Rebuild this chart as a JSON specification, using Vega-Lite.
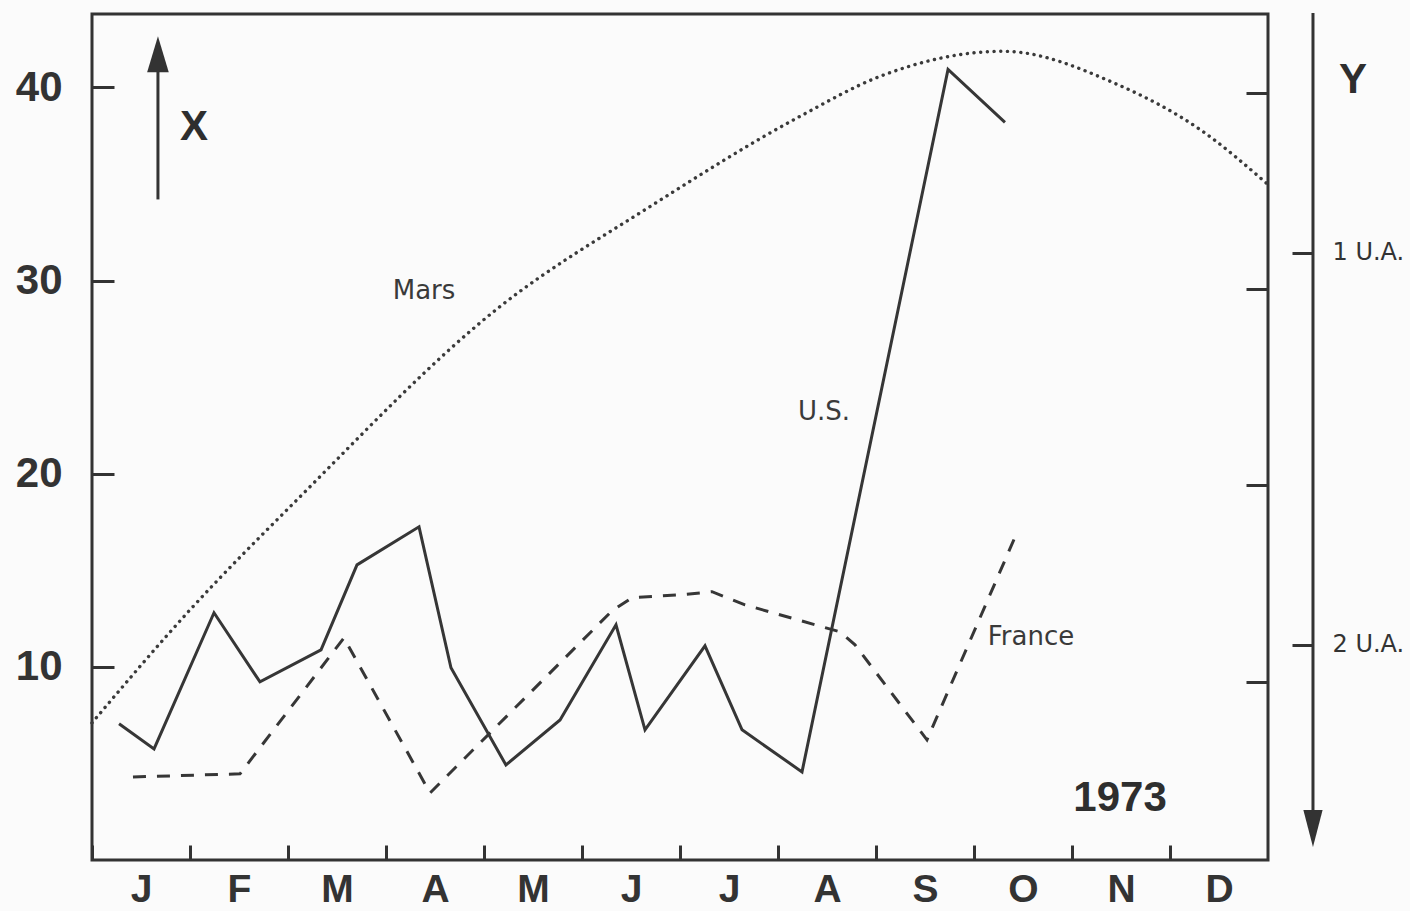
{
  "$schema": "https://vega.github.io/schema/vega-lite/v6.json",
  "width": 1176,
  "height": 846,
  "autosize": {"type": "none"},
  "padding": {"left": 92, "top": 14, "right": 142, "bottom": 51},
  "background": "#fbfbfb",
  "config": {"view": {"stroke": "#333333", "strokeWidth": 3}, "font": "Liberation Sans"},
  "datasets": {
    "series": [
      {"series": "U.S.", "t": 0.276, "v": 7.05},
      {"series": "U.S.", "t": 0.633, "v": 5.75},
      {"series": "U.S.", "t": 1.245, "v": 12.8},
      {"series": "U.S.", "t": 1.714, "v": 9.22},
      {"series": "U.S.", "t": 2.337, "v": 10.88},
      {"series": "U.S.", "t": 2.704, "v": 15.28},
      {"series": "U.S.", "t": 3.337, "v": 17.25},
      {"series": "U.S.", "t": 3.663, "v": 9.95},
      {"series": "U.S.", "t": 4.224, "v": 4.92},
      {"series": "U.S.", "t": 4.776, "v": 7.25},
      {"series": "U.S.", "t": 5.347, "v": 12.18},
      {"series": "U.S.", "t": 5.643, "v": 6.74},
      {"series": "U.S.", "t": 6.255, "v": 11.09},
      {"series": "U.S.", "t": 6.633, "v": 6.74},
      {"series": "U.S.", "t": 7.245, "v": 4.56},
      {"series": "U.S.", "t": 8.735, "v": 40.93},
      {"series": "U.S.", "t": 9.316, "v": 38.19},
      {"series": "France", "t": 0.418, "v": 4.3},
      {"series": "France", "t": 1.51, "v": 4.46},
      {"series": "France", "t": 2.571, "v": 11.5},
      {"series": "France", "t": 3.449, "v": 3.47},
      {"series": "France", "t": 5.306, "v": 12.9},
      {"series": "France", "t": 5.51, "v": 13.58},
      {"series": "France", "t": 6.0, "v": 13.73},
      {"series": "France", "t": 6.327, "v": 13.89},
      {"series": "France", "t": 6.663, "v": 13.21},
      {"series": "France", "t": 7.633, "v": 11.81},
      {"series": "France", "t": 7.786, "v": 11.14},
      {"series": "France", "t": 8.52, "v": 6.22},
      {"series": "France", "t": 9.429, "v": 16.84},
      {"series": "Mars", "t": 0.0, "v": 7.1},
      {"series": "Mars", "t": 1.0, "v": 12.95},
      {"series": "Mars", "t": 2.092, "v": 18.65},
      {"series": "Mars", "t": 4.163, "v": 28.65},
      {"series": "Mars", "t": 5.694, "v": 33.83},
      {"series": "Mars", "t": 7.224, "v": 38.5},
      {"series": "Mars", "t": 8.041, "v": 40.57},
      {"series": "Mars", "t": 9.296, "v": 41.87},
      {"series": "Mars", "t": 10.459, "v": 40.16},
      {"series": "Mars", "t": 11.306, "v": 37.82},
      {"series": "Mars", "t": 12.0, "v": 34.97}
    ],
    "labels": [
      {"label": "Mars", "t": 3.388, "v": 29.48},
      {"label": "U.S.", "t": 7.469, "v": 23.21},
      {"label": "France", "t": 9.582, "v": 11.55}
    ],
    "bigLabels": [
      {"label": "X", "t": 1.041, "v": 37.93},
      {"label": "Y", "t": 12.867, "v": 40.36},
      {"label": "1973", "t": 10.49, "v": 3.21}
    ],
    "arrowLines": [
      {"arrow": "X", "t": 0.673, "v": 34.2, "v2": 41.0},
      {"arrow": "Y", "t": 12.459, "v": 43.85, "v2": 2.2}
    ],
    "arrowUp": [{"arrow": "X", "t": 0.673, "v": 41.71}],
    "arrowDown": [{"arrow": "Y", "t": 12.459, "v": 1.63}]
  },
  "resolve": {"scale": {"y": "independent"}, "axis": {"y": "independent"}},
  "layer": [
    {
      "layer": [
        {
          "data": {"name": "series"},
          "transform": [{"filter": "datum.series === 'U.S.'"}],
          "mark": {"type": "line", "color": "#363636", "strokeWidth": 3, "strokeJoin": "miter"},
          "encoding": {
            "x": {"field": "t", "type": "quantitative", "scale": {"domain": [0, 12], "nice": false, "zero": false},
              "axis": {"orient": "bottom", "title": null, "values": [0,1,2,3,4,5,6,7,8,9,10,11],
                "labelExpr": "['J','F','M','A','M','J','J','A','S','O','N','D'][datum.value]",
                "labelOffset": 49, "tickSize": -15, "tickWidth": 3, "tickColor": "#333333",
                "labelPadding": 25, "labelFontSize": 39, "labelFontWeight": "bold", "labelColor": "#333333",
                "labelAlign": "center", "labelBaseline": "top", "domain": false, "grid": false,
                "labelFlush": false, "labelOverlap": false, "labelBound": false}},
            "y": {"field": "v", "type": "quantitative", "scale": {"domain": [0, 43.8], "nice": false, "zero": false},
              "axis": {"orient": "left", "title": null, "values": [10, 20, 30, 40],
                "tickSize": -22, "tickWidth": 3, "tickColor": "#333333",
                "labelPadding": 52, "labelFontSize": 42, "labelFontWeight": "bold", "labelColor": "#333333",
                "domain": false, "grid": false, "labelFlush": false, "labelOverlap": false, "labelBound": false}}
          }
        },
        {
          "data": {"name": "series"},
          "transform": [{"filter": "datum.series === 'France'"}],
          "mark": {"type": "line", "color": "#363636", "strokeWidth": 3, "strokeDash": [13, 11]},
          "encoding": {
            "x": {"field": "t", "type": "quantitative", "scale": {"domain": [0, 12], "nice": false, "zero": false}},
            "y": {"field": "v", "type": "quantitative", "scale": {"domain": [0, 43.8], "nice": false, "zero": false}}
          }
        },
        {
          "data": {"name": "series"},
          "transform": [{"filter": "datum.series === 'Mars'"}],
          "mark": {"type": "line", "color": "#3a3a3a", "strokeWidth": 3.4, "strokeDash": [0.1, 6.6], "strokeCap": "round", "interpolate": "monotone"},
          "encoding": {
            "x": {"field": "t", "type": "quantitative", "scale": {"domain": [0, 12], "nice": false, "zero": false}},
            "y": {"field": "v", "type": "quantitative", "scale": {"domain": [0, 43.8], "nice": false, "zero": false}}
          }
        },
        {
          "data": {"name": "labels"},
          "mark": {"type": "text", "font": "DejaVu Sans", "fontSize": 26, "color": "#3a3a3a", "align": "center", "baseline": "middle"},
          "encoding": {
            "x": {"field": "t", "type": "quantitative", "scale": {"domain": [0, 12], "nice": false, "zero": false}},
            "y": {"field": "v", "type": "quantitative", "scale": {"domain": [0, 43.8], "nice": false, "zero": false}},
            "text": {"field": "label"}
          }
        },
        {
          "data": {"name": "bigLabels"},
          "mark": {"type": "text", "font": "Liberation Sans", "fontWeight": "bold", "fontSize": 42, "color": "#2e2e2e", "align": "center", "baseline": "middle"},
          "encoding": {
            "x": {"field": "t", "type": "quantitative", "scale": {"domain": [0, 12], "nice": false, "zero": false}},
            "y": {"field": "v", "type": "quantitative", "scale": {"domain": [0, 43.8], "nice": false, "zero": false}},
            "text": {"field": "label"}
          }
        },
        {
          "data": {"name": "arrowLines"},
          "mark": {"type": "rule", "color": "#333333", "strokeWidth": 3},
          "encoding": {
            "x": {"field": "t", "type": "quantitative", "scale": {"domain": [0, 12], "nice": false, "zero": false}},
            "y": {"field": "v", "type": "quantitative", "scale": {"domain": [0, 43.8], "nice": false, "zero": false}},
            "y2": {"field": "v2"}
          }
        },
        {
          "data": {"name": "arrowUp"},
          "mark": {"type": "point", "shape": "M0,-1L0.6,1L-0.6,1Z", "size": 1296, "filled": true, "color": "#333333", "opacity": 1},
          "encoding": {
            "x": {"field": "t", "type": "quantitative", "scale": {"domain": [0, 12], "nice": false, "zero": false}},
            "y": {"field": "v", "type": "quantitative", "scale": {"domain": [0, 43.8], "nice": false, "zero": false}}
          }
        },
        {
          "data": {"name": "arrowDown"},
          "mark": {"type": "point", "shape": "M0,1L0.52,-1L-0.52,-1Z", "size": 1369, "filled": true, "color": "#333333", "opacity": 1},
          "encoding": {
            "x": {"field": "t", "type": "quantitative", "scale": {"domain": [0, 12], "nice": false, "zero": false}},
            "y": {"field": "v", "type": "quantitative", "scale": {"domain": [0, 43.8], "nice": false, "zero": false}}
          }
        }
      ]
    },
    {
      "data": {"values": [{"w": 10}, {"w": 40}]},
      "mark": {"type": "tick", "opacity": 0},
      "encoding": {
        "y": {"field": "w", "type": "quantitative", "scale": {"domain": [0.92, 44.0], "nice": false, "zero": false},
          "axis": {"orient": "right", "offset": 0, "title": null, "values": [10, 20, 30, 40], "labels": false,
            "tickSize": -22, "tickWidth": 3, "tickColor": "#333333", "domain": false, "grid": false}}
      }
    },
    {
      "data": {"values": [{"ua": 1}, {"ua": 2}]},
      "mark": {"type": "tick", "opacity": 0},
      "encoding": {
        "y": {"field": "ua", "type": "quantitative", "scale": {"domain": [0.3903, 2.5485], "reverse": true, "nice": false, "zero": false},
          "axis": {"orient": "right", "offset": 45, "title": null, "values": [1, 2],
            "labelExpr": "datum.value + ' U.A.'", "tickSize": -21, "tickWidth": 3, "tickColor": "#333333",
            "labelPadding": 40, "labelFont": "DejaVu Sans", "labelFontSize": 24, "labelColor": "#333333",
            "labelAlign": "left", "labelBaseline": "middle", "domain": false, "grid": false,
            "labelFlush": false, "labelOverlap": false, "labelBound": false}}
      }
    }
  ]
}
